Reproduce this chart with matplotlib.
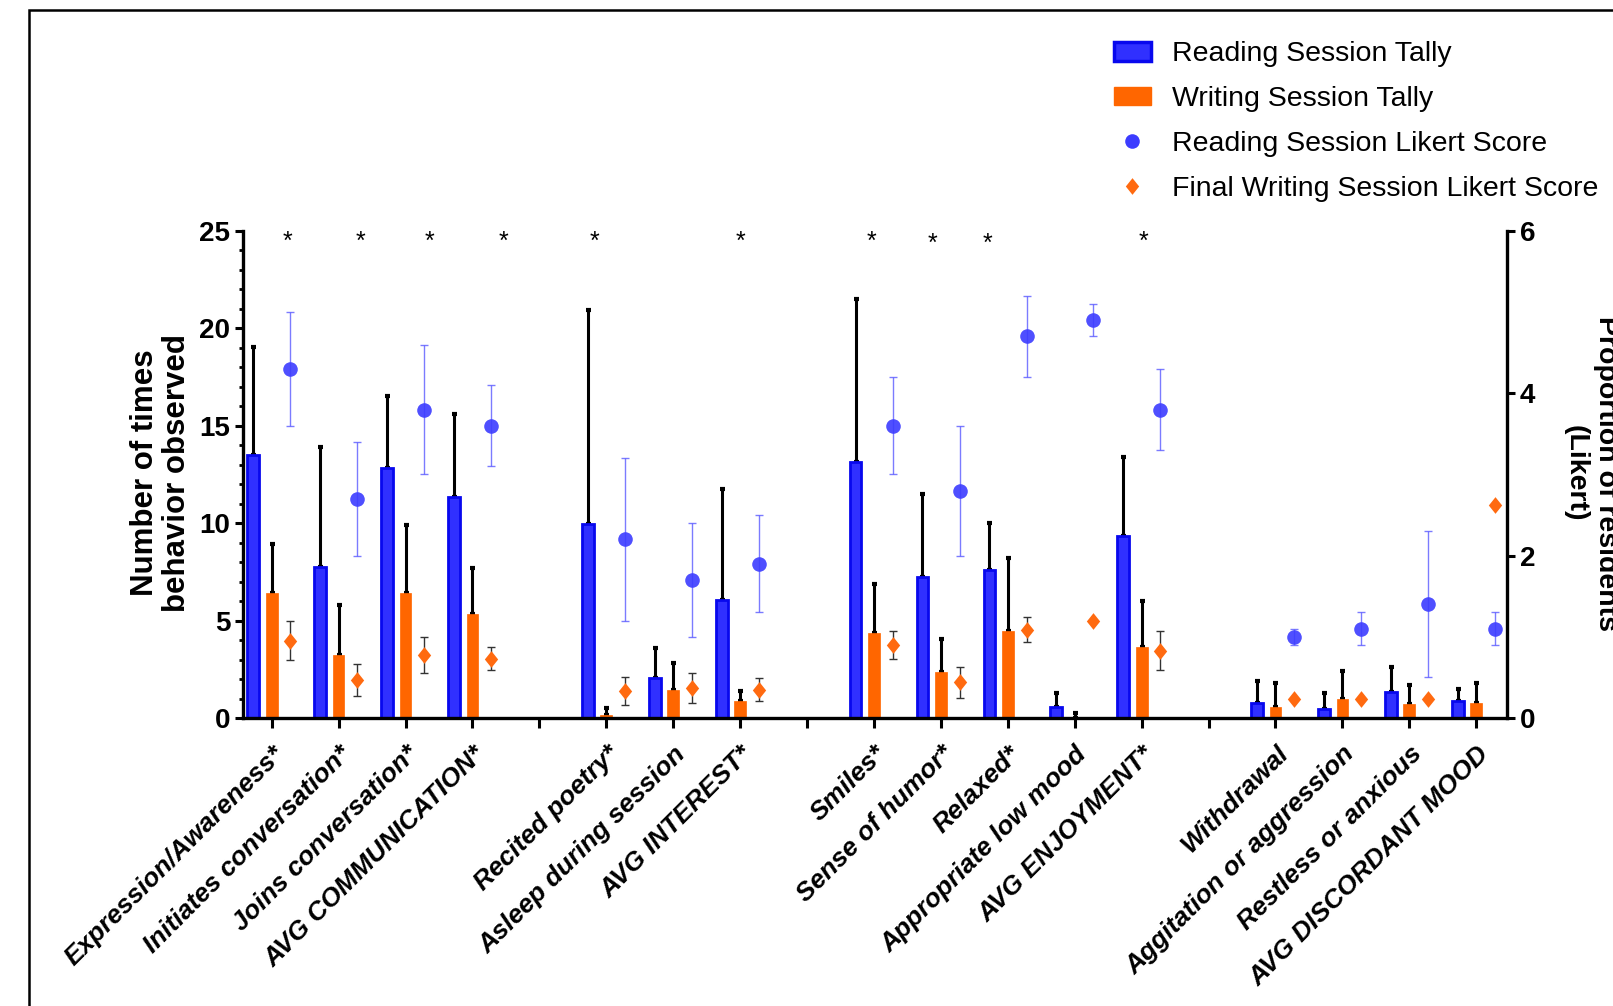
import matplotlib
matplotlib.use("Agg")
import matplotlib.pyplot as plt
import numpy as np
from matplotlib.patches import Patch, Rectangle
from matplotlib.lines import Line2D

plt.rcParams['font.family'] = ['Liberation Sans', 'DejaVu Sans']

nan = np.nan
# 19 slots on the x axis, '' = gap between groups
labels = ["Expression/Awareness*", "Initiates conversation*", "Joins conversation*",
          "AVG COMMUNICATION*", "",
          "Recited poetry*", "Asleep during session", "AVG INTEREST*", "",
          "Smiles*", "Sense of humor*", "Relaxed*", "Appropriate low mood", "AVG ENJOYMENT*", "",
          "Withdrawal", "Aggitation or aggression", "Restless or anxious", "AVG DISCORDANT MOOD"]

reading_tally = [13.5, 7.75, 12.85, 11.35, nan, 9.95, 2.05, 6.05, nan,
                 13.15, 7.25, 7.6, 0.55, 9.35, nan, 0.75, 0.45, 1.35, 0.85]
reading_tally_err = [5.55, 6.15, 3.7, 4.25, nan, 11.0, 1.55, 5.7, nan,
                     8.35, 4.25, 2.4, 0.75, 4.05, nan, 1.15, 0.85, 1.25, 0.65]

writing_tally = [6.4, 3.25, 6.4, 5.35, nan, 0.15, 1.45, 0.85, nan,
                 4.35, 2.35, 4.45, 0.0, 3.65, nan, 0.55, 0.95, 0.7, 0.75]
writing_tally_err = [2.55, 2.55, 3.5, 2.35, nan, 0.35, 1.35, 0.55, nan,
                     2.55, 1.7, 3.75, 0.27, 2.35, nan, 1.25, 1.45, 1.0, 1.05]

reading_likert = [4.3, 2.7, 3.8, 3.6, nan, 2.2, 1.7, 1.9, nan,
                  3.6, 2.8, 4.7, 4.9, 3.8, nan, 1.0, 1.1, 1.4, 1.1]
reading_likert_err = [0.7, 0.7, 0.8, 0.5, nan, 1.0, 0.7, 0.6, nan,
                      0.6, 0.8, 0.5, 0.2, 0.5, nan, 0.1, 0.2, 0.9, 0.2]

writing_likert = [0.95, 0.47, 0.78, 0.73, nan, 0.33, 0.37, 0.35, nan,
                  0.9, 0.44, 1.09, 1.19, 0.83, nan, 0.23, 0.24, 0.24, 2.63]
writing_likert_err = [0.24, 0.2, 0.22, 0.14, nan, 0.17, 0.19, 0.14, nan,
                      0.17, 0.19, 0.15, 0, 0.24, nan, 0, 0, 0, 0]

# significance asterisks (x in slot units)
sig_x = [0.23, 1.33, 2.36, 3.47, 4.82, 7.0, 8.97, 9.88, 10.7, 13.03]
sig_low = [False, False, False, False, False, False, False, True, True, False]

blue = '#3030ff'
blue_edge = '#0808ee'
orange = '#ff6600'

x = np.arange(len(labels))
w = 0.175

fig = plt.figure(figsize=(16.13, 10.06), dpi=100)
ax = fig.add_axes([0.1506, 0.2863, 0.7837, 0.4841])
ax2 = ax.twinx()

# tallies on left axis
ax.bar(x - 0.275, reading_tally, w, color=blue, edgecolor=blue_edge, linewidth=2, zorder=2)
ax.bar(x, writing_tally, w, color=orange, edgecolor=orange, linewidth=0.5, zorder=2)
ax.errorbar(x - 0.275, reading_tally, yerr=[np.zeros(len(x)), reading_tally_err], fmt='none',
            ecolor='black', elinewidth=2.2, capsize=1.8, capthick=3, zorder=1)
ax.errorbar(x, writing_tally, yerr=[np.zeros(len(x)), writing_tally_err], fmt='none',
            ecolor='black', elinewidth=2.2, capsize=1.8, capthick=3, zorder=1)

# likert on right axis
diamond = [(0, 1), (0.8, 0), (0, -1), (-0.8, 0), (0, 1)]
ax2.errorbar(x + 0.28, reading_likert, yerr=reading_likert_err, fmt='none',
             ecolor='#5a5aff', elinewidth=1, capsize=3, capthick=1, alpha=0.8)
ax2.plot(x + 0.28, reading_likert, 'o', color='#3c3cff', alpha=0.9, markersize=10.5,
         markeredgewidth=0)
ax2.errorbar(x + 0.28, writing_likert, yerr=writing_likert_err, fmt='none',
             ecolor='#333333', elinewidth=1, capsize=3, capthick=1)
ax2.plot(x + 0.28, writing_likert, linestyle='none', marker=diamond, color='#ff6a10',
         markersize=12, markeredgewidth=0)

ax.set_xlim(-0.43, 18.46)
ax.set_ylim(0, 25)
ax2.set_ylim(0, 6)

ax.set_xticks(x)
ax.set_xticklabels(labels, rotation=45, ha='right', va='top', rotation_mode='anchor',
                   fontsize=19, fontweight='bold', fontstyle='italic')
ax.set_yticks([0, 5, 10, 15, 20, 25])
ax.set_yticks(np.arange(0, 26, 1), minor=True)
ax2.set_yticks([0, 2, 4, 6])

for lab in ax.get_yticklabels() + ax2.get_yticklabels():
    lab.set_fontsize(20)
    lab.set_fontweight('bold')

ax.tick_params(axis='x', length=7, width=2.2, pad=10)
ax.tick_params(axis='y', which='major', length=6, width=2.2, pad=3)
ax.tick_params(axis='y', which='minor', length=3, width=2)
ax2.tick_params(axis='y', length=6, width=2.2, pad=3)

for a in (ax, ax2):
    a.spines['top'].set_visible(False)
    for s in a.spines.values():
        s.set_linewidth(2.4)
ax.spines['right'].set_visible(False)
ax2.spines['left'].set_visible(False)
ax2.spines['bottom'].set_visible(False)

for sx, low in zip(sig_x, sig_low):
    ax.text(sx, 24.0 if low else 24.1, '*', ha='center', va='baseline', fontsize=18)

fig.text(161 / 1613, 1 - 473 / 1006, 'Number of times\nbehavior observed', rotation=90,
         ha='center', va='center', fontsize=22.5, fontweight='bold', multialignment='center',
         linespacing=1.1)
fig.text(1591 / 1613, 1 - 473 / 1006, 'Proportion of residents\n(Likert)', rotation=270,
         ha='center', va='center', fontsize=20.5, fontweight='bold', multialignment='center')

handles = [Patch(facecolor=blue, edgecolor=blue_edge, linewidth=2.5),
           Patch(facecolor=orange, edgecolor=orange),
           Line2D([], [], linestyle='none', marker='o', color='#3c3cff', markersize=10.5,
                  markeredgewidth=0),
           Line2D([], [], linestyle='none', marker=diamond, color='#ff6a10', markersize=12,
                  markeredgewidth=0)]
fig.legend(handles, ['Reading Session Tally', 'Writing Session Tally',
                     'Reading Session Likert Score', 'Final Writing Session Likert Score'],
           loc='upper left', bbox_to_anchor=(0.6906, 0.959), frameon=False, fontsize=20.5,
           handlelength=1.3, handleheight=0.63, handletextpad=0.75, labelspacing=0.66,
           borderpad=0, borderaxespad=0)

fig.add_artist(Rectangle((29 / 1613, -0.2), 1.2, 1.19,
                         transform=fig.transFigure, fill=False, edgecolor='black',
                         linewidth=1.8))

fig.savefig('out.png', dpi=100)
